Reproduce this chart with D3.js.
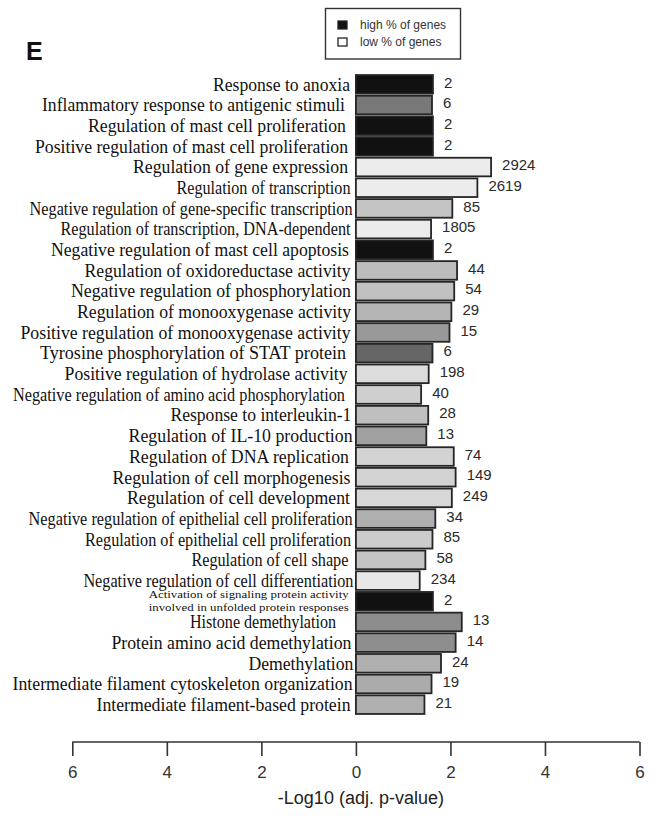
<!DOCTYPE html>
<html>
<head>
<meta charset="utf-8">
<script src="https://cdn.jsdelivr.net/npm/d3@7"></script>
<style>
  body { margin: 0; background: #fff; }
  svg { display: block; }
</style>
</head>
<body>
<div id="chart"></div>
<script>
// GO terms, top to bottom ("|" splits a two line label)
var terms = [
  "Response to anoxia",
  "Inflammatory response to antigenic stimuli",
  "Regulation of mast cell proliferation",
  "Positive regulation of mast cell proliferation",
  "Regulation of gene expression",
  "Regulation of transcription",
  "Negative regulation of gene-specific transcription",
  "Regulation of transcription, DNA-dependent",
  "Negative regulation of mast cell apoptosis",
  "Regulation of oxidoreductase activity",
  "Negative regulation of phosphorylation",
  "Regulation of monooxygenase activity",
  "Positive regulation of monooxygenase activity",
  "Tyrosine phosphorylation of STAT protein",
  "Positive regulation of hydrolase activity",
  "Negative regulation of amino acid phosphorylation",
  "Response to interleukin-1",
  "Regulation of IL-10 production",
  "Regulation of DNA replication",
  "Regulation of cell morphogenesis",
  "Regulation of cell development",
  "Negative regulation of epithelial cell proliferation",
  "Regulation of epithelial cell proliferation",
  "Regulation of cell shape",
  "Negative regulation of cell differentiation",
  "Activation of signaling protein activity|involved in unfolded protein responses",
  "Histone demethylation",
  "Protein amino acid demethylation",
  "Demethylation",
  "Intermediate filament cytoskeleton organization",
  "Intermediate filament-based protein"
];

// -log10 adjusted p-value
var pValues = [1.63, 1.61, 1.63, 1.63, 2.86, 2.57, 2.04, 1.59, 1.63, 2.14,
               2.08, 2.02, 1.98, 1.62, 1.54, 1.38, 1.53, 1.49, 2.07, 2.11,
               2.03, 1.68, 1.62, 1.47, 1.35, 1.63, 2.24, 2.11, 1.80, 1.60, 1.45];

// number of genes in the term
var geneCounts = [2, 6, 2, 2, 2924, 2619, 85, 1805, 2, 44,
                  54, 29, 15, 6, 198, 40, 28, 13, 74, 149,
                  249, 34, 85, 58, 234, 2, 13, 14, 24, 19, 21];

// relative % of genes (0 = low, 1 = high)
var geneShare = [1.0, 0.54, 1.0, 1.0, 0.02, 0.02, 0.20, 0.02, 1.0, 0.23,
                 0.21, 0.27, 0.39, 0.62, 0.09, 0.15, 0.22, 0.36, 0.13, 0.13,
                 0.11, 0.29, 0.16, 0.20, 0.04, 1.0, 0.45, 0.44, 0.29, 0.31, 0.29];

var xTicks = [-6, -4, -2, 0, 2, 4, 6];
var legendItems = ["high % of genes", "low % of genes"];

// label layout (the figure squeezes some labels to fit)
var labelWidths = [137, 303, 258, 313, 215, 174, 323, 290, 298, 266,
                   280, 274, 330, 306, 283, 332, 181, 224, 220, 238,
                   223, 324, 266, 157, 270, 200, 146, 240, 105, 340, 254];
var labelRight = [350, 345, 346, 348, 348, 350.5, 352.6, 350.5, 349, 350.5,
                  351, 351, 350.5, 346, 347.6, 345, 351.4, 352.6, 349, 350.5,
                  350, 352.6, 351, 348.4, 353.4, 348.7, 336, 351.4, 353.4, 352.6, 350.5];

var width = 652,
    height = 830;

var svg = d3.select("#chart").append("svg")
    .attr("width", width)
    .attr("height", height);

var x = d3.scaleLinear()
    .domain([-6, 6])
    .range([72.3, 639.5]);

var y = d3.scaleBand()
    .domain(d3.range(terms.length))
    .range([74, 715])
    .paddingInner(0.1)
    .paddingOuter(0.05);

var shade = d3.scaleLinear()
    .domain([0, 1])
    .range(["#f0f0f0", "#111111"]);

// panel letter
svg.append("text")
    .attr("x", 26)
    .attr("y", 60)
    .style("font-family", "Arial, 'Liberation Sans', sans-serif")
    .style("font-weight", "bold")
    .style("font-size", "25px")
    .style("fill", "#111")
    .text("E");

// legend
var legend = svg.append("g").attr("class", "legend");
legend.append("rect")
    .attr("x", 325.5)
    .attr("y", 8.5)
    .attr("width", 135)
    .attr("height", 50.5)
    .style("fill", "#fff")
    .style("stroke", "#333")
    .style("stroke-width", 1.4);

legend.selectAll(".key")
    .data(legendItems)
  .enter().append("rect")
    .attr("class", "key")
    .attr("x", 338)
    .attr("y", function(d, i) { return 21 + i * 17; })
    .attr("width", 9)
    .attr("height", 8)
    .style("fill", function(d, i) { return i === 0 ? "#111" : "#fff"; })
    .style("stroke", "#222")
    .style("stroke-width", 1.3);

legend.selectAll(".keylabel")
    .data(legendItems)
  .enter().append("text")
    .attr("class", "keylabel")
    .attr("x", 360)
    .attr("y", function(d, i) { return 25 + i * 17; })
    .attr("dy", "0.35em")
    .style("font-family", "Arial, 'Liberation Sans', sans-serif")
    .style("font-size", "12px")
    .style("fill", "#333")
    .text(function(d) { return d; });

// bars
svg.selectAll(".bar")
    .data(pValues)
  .enter().append("rect")
    .attr("class", "bar")
    .attr("x", x(0))
    .attr("y", function(d, i) { return y(i); })
    .attr("width", function(d) { return x(d) - x(0); })
    .attr("height", y.bandwidth())
    .style("fill", function(d, i) { return shade(geneShare[i]); })
    .style("stroke", "#252525")
    .style("stroke-width", 1.8);

// gene counts
svg.selectAll(".count")
    .data(geneCounts)
  .enter().append("text")
    .attr("class", "count")
    .attr("x", function(d, i) { return x(pValues[i]) + 11; })
    .attr("y", function(d, i) { return y(i) + y.bandwidth() / 2 - 2; })
    .attr("dy", "0.35em")
    .style("font-family", "Arial, 'Liberation Sans', sans-serif")
    .style("font-size", "15px")
    .style("fill", "#2a2a2a")
    .text(function(d) { return d; });

// term labels
var labels = svg.selectAll(".term")
    .data(terms)
  .enter().append("text")
    .attr("class", "term")
    .attr("text-anchor", "end")
    .style("font-family", "'Liberation Serif', 'Times New Roman', serif")
    .style("fill", "#111");

labels.each(function(d, i) {
  var t = d3.select(this),
      lines = d.split("|"),
      cy = y(i) + y.bandwidth() / 2;
  if(lines.length === 1) {
    t.attr("x", labelRight[i])
     .attr("y", cy)
     .attr("dy", "0.35em")
     .style("font-size", "18px")
     .attr("textLength", labelWidths[i])
     .attr("lengthAdjust", "spacingAndGlyphs")
     .text(d);
  } else {
    // small two line label squeezed between its neighbours
    t.style("font-size", "10.5px");
    lines.forEach(function(line, k) {
      t.append("tspan")
       .attr("x", labelRight[i])
       .attr("y", cy + (k - 0.5) * 12.5)
       .attr("dy", "0.33em")
       .attr("textLength", labelWidths[i])
       .attr("lengthAdjust", "spacingAndGlyphs")
       .text(line);
    });
  }
});

// x axis
var xAxis = d3.axisBottom(x)
    .tickValues(xTicks)
    .tickSize(14)
    .tickPadding(10)
    .tickSizeOuter(0)
    .tickFormat(function(d) { return Math.abs(d); });

var axis = svg.append("g")
    .attr("class", "x axis")
    .attr("transform", "translate(0,742)")
    .call(xAxis);

axis.select(".domain")
    .attr("d", "M" + x(-6) + ",0H" + x(6))
    .style("stroke", "#333")
    .style("stroke-width", 1.6);
axis.selectAll(".tick line")
    .style("stroke", "#333")
    .style("stroke-width", 1.6);
axis.selectAll(".tick text")
    .style("font-family", "Arial, 'Liberation Sans', sans-serif")
    .style("font-size", "17px")
    .style("fill", "#333");

svg.append("text")
    .attr("x", x(0) + 5)
    .attr("y", 798)
    .attr("dy", "0.35em")
    .attr("text-anchor", "middle")
    .style("font-family", "Arial, 'Liberation Sans', sans-serif")
    .style("font-size", "18px")
    .style("fill", "#222")
    .text("-Log10 (adj. p-value)");
</script>
</body>
</html>
